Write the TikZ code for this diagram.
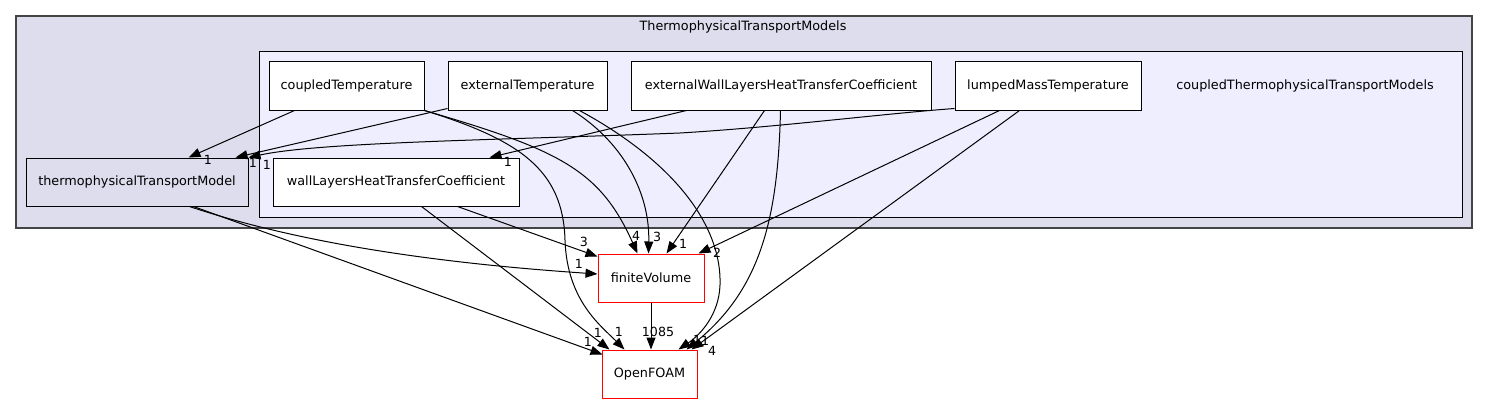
\documentclass[tikz,border=0pt]{standalone}
\usepackage{fontspec}
\setmainfont{DejaVu Sans}
\usetikzlibrary{arrows.meta,calc}
\definecolor{outerfill}{HTML}{DDDDEE}
\definecolor{innerfill}{HTML}{EEEEFF}
\definecolor{outerline}{HTML}{444444}
\tikzset{
  txt/.style={font=\fontsize{12.8}{14}\selectfont, inner sep=0pt},
  lbl/.style={font=\fontsize{12.6}{14}\selectfont, inner sep=0pt, text=black},
  dirbox/.style={draw=black, line width=1pt, fill=white, minimum height=48pt, inner sep=0pt, font=\fontsize{12.8}{14}\selectfont},
  extbox/.style={draw=red, line width=1pt, fill=white, minimum height=48pt, inner sep=0pt, font=\fontsize{12.8}{14}\selectfont},
  outercl/.style={draw=outerline, line width=1.3pt, fill=outerfill, inner sep=0pt},
  innercl/.style={draw=black, line width=1pt, fill=innerfill, inner sep=0pt},
  dep/.style={draw=black, line width=1pt, -{Triangle[length=12pt,width=9pt]}},
}
\begin{document}
\begin{tikzpicture}[x=1pt,y=-1pt]
\useasboundingbox (0,0) rectangle (1488,404);
% clusters
\node[outercl, minimum width=1456pt, minimum height=212pt] (outer) at (744,122) {};
\node[txt] (outertitle) at (743,27) {ThermophysicalTransportModels};
\node[innercl, minimum width=1203pt, minimum height=165pt] (inner) at (860.5,134.5) {};
\node[txt] (innertitle) at (1305,86) {coupledThermophysicalTransportModels};
% nodes
\node[dirbox, minimum width=155pt] (cT) at (346.5,86) {coupledTemperature};
\node[dirbox, minimum width=159pt] (eT) at (527.5,86) {externalTemperature};
\node[dirbox, minimum width=300pt] (eW) at (781,86) {externalWallLayersHeatTransferCoefficient};
\node[dirbox, minimum width=186pt] (lM) at (1048,86) {lumpedMassTemperature};
\node[dirbox, minimum width=246pt] (wL) at (396,182) {wallLayersHeatTransferCoefficient};
\node[dirbox, fill=outerfill, minimum width=222pt] (tTM) at (137,182) {thermophysicalTransportModel};
\node[extbox, minimum width=106pt] (fV) at (651,278) {finiteVolume};
\node[extbox, minimum width=95pt] (OF) at (649.5,374) {OpenFOAM};
% edges to thermophysicalTransportModel
\draw[dep] ($(cT.south west)+(26,0)$) -- ($(tTM.north west)+(163,0)$);
\draw[dep] ($(eT.south west)+(0,-2)$) -- ($(tTM.north west)+(210,0)$);
\draw[dep] ($(lM.south west)+(0,-2)$) .. controls (880,114) and (780,127) .. (680,133)
   .. controls (500,140) and (320,142) .. (tTM.north east);
% edge to wallLayers
\draw[dep] ($(eW.south west)+(56,0)$) -- ($(wL.north west)+(217,0)$);
% edges to finiteVolume
\draw[dep] (cT.south east) .. controls (560,150) and (600,170) .. ($(fV.north west)+(40,0)$);
\draw[dep] ($(eT.south west)+(125,0)$) .. controls (620,140) and (650,190) .. ($(fV.north west)+(51,0)$);
\draw[dep] ($(eW.south west)+(134,0)$) -- ($(fV.north west)+(69,0)$);
\draw[dep] ($(lM.south west)+(45,0)$) -- ($(fV.north west)+(101,0)$);
\draw[dep] ($(wL.south west)+(185,0)$) -- ($(fV.north west)+(0,3)$);
\draw[dep] ($(tTM.south west)+(164,0)$) .. controls (290,240) and (420,262) .. ($(fV.west)+(0,-4)$);
% edges to OpenFOAM
\draw[dep] (cT.south east) .. controls (520,140) and (563,170) .. (565,240)
   .. controls (567,300) and (600,325) .. ($(OF.north west)+(23,0)$);
\draw[dep] ($(eT.south west)+(132,0)$) .. controls (680,165) and (722,230) .. (720,285)
   .. controls (719,315) and (700,335) .. ($(OF.north west)+(77,0)$);
\draw[dep] ($(eW.south west)+(150,0)$) .. controls (778,220) and (760,290) .. ($(OF.north west)+(85,0)$);
\draw[dep] ($(lM.south west)+(65,0)$) -- ($(OF.north west)+(90,0)$);
\draw[dep] ($(wL.south west)+(149,0)$) -- ($(OF.north west)+(8,0)$);
\draw[dep] ($(tTM.south west)+(168,0)$) -- ($(OF.north west)+(1,5)$);
\draw[dep] (fV.south) -- (fV.south |- OF.north);
% labels
\node[lbl] (l1) at (208,160) {1};
\node[lbl] (l2) at (253,163) {1};
\node[lbl] (l3) at (267,165) {1};
\node[lbl] (l4) at (508,162) {1};
\node[lbl] (l5) at (636,236) {4};
\node[lbl] (l6) at (657,237) {3};
\node[lbl] (l7) at (683,244) {1};
\node[lbl] (l8) at (717,253) {2};
\node[lbl] (l9) at (584,242) {3};
\node[lbl] (l10) at (579,264) {1};
\node[lbl] (l11) at (619,332) {1};
\node[lbl] (l12) at (598,333) {1};
\node[lbl] (l13) at (588,342) {1};
\node[lbl] (l14) at (658,332) {1085};
\node[lbl] (l15) at (697,340) {1};
\node[lbl] (l16) at (705,341) {1};
\node[lbl] (l17) at (712,351) {4};
\end{tikzpicture}
\end{document}
